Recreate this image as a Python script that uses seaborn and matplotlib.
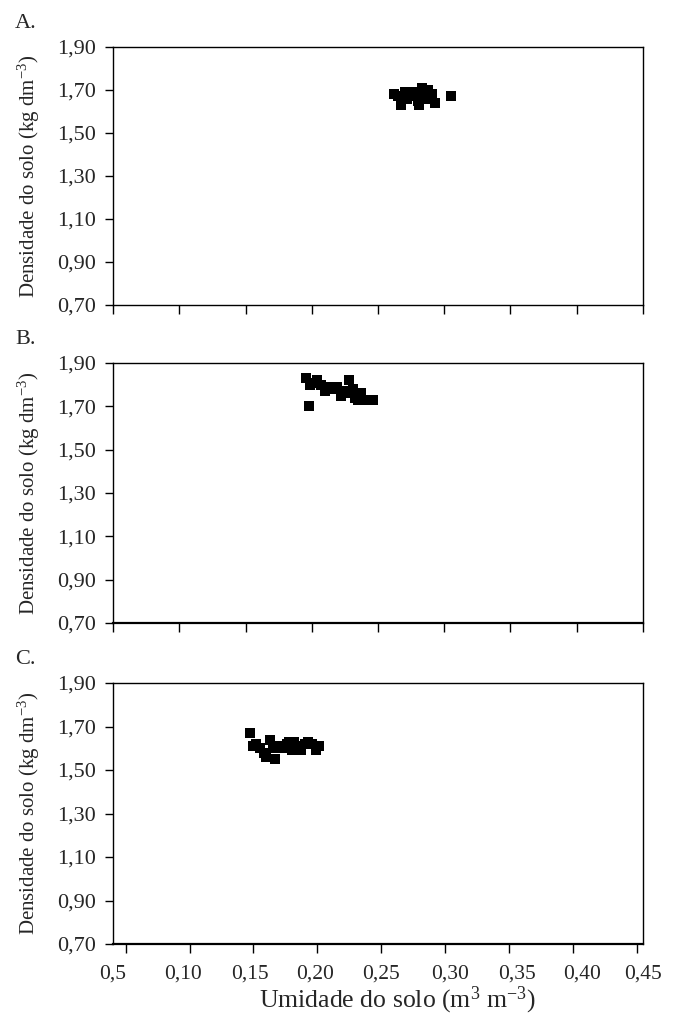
import numpy as np
import pandas as pd
import matplotlib
matplotlib.use("Agg")
import matplotlib.pyplot as plt
import seaborn as sns

# Soil moisture (m3 m-3) vs bulk density (kg dm-3), three panels
umid_a = [0.262, 0.265, 0.267, 0.270, 0.272, 0.275, 0.277, 0.280, 0.281, 0.283,
          0.285, 0.287, 0.289, 0.291, 0.293, 0.270, 0.276, 0.284, 0.288, 0.305]
dens_a = [1.68, 1.67, 1.63, 1.69, 1.66, 1.68, 1.67, 1.65, 1.63, 1.71,
          1.68, 1.69, 1.66, 1.68, 1.64, 1.67, 1.69, 1.66, 1.70, 1.67]

umid_b = [0.196, 0.199, 0.201, 0.204, 0.207, 0.210, 0.212, 0.215, 0.219, 0.222,
          0.224, 0.228, 0.229, 0.231, 0.233, 0.235, 0.237, 0.239, 0.2465, 0.198]
dens_b = [1.83, 1.80, 1.81, 1.82, 1.80, 1.77, 1.79, 1.78, 1.79, 1.75,
          1.77, 1.82, 1.76, 1.78, 1.74, 1.73, 1.76, 1.73, 1.73, 1.70]

umid_c = [0.147, 0.150, 0.152, 0.155, 0.158, 0.160, 0.163, 0.165, 0.167, 0.170, 0.173,
          0.176, 0.178, 0.180, 0.182, 0.185, 0.187, 0.190, 0.193, 0.196, 0.199, 0.201]
dens_c = [1.67, 1.61, 1.62, 1.60, 1.58, 1.56, 1.64, 1.60, 1.55, 1.61, 1.60,
          1.62, 1.63, 1.59, 1.63, 1.61, 1.59, 1.62, 1.63, 1.62, 1.59, 1.61]

x_ticks = [0.05, 0.10, 0.15, 0.20, 0.25, 0.30, 0.35, 0.40, 0.45]
x_labels = ["0,5", "0,10", "0,15", "0,20", "0,25", "0,30", "0,35", "0,40", "0,45"]
y_ticks = [0.70, 0.90, 1.10, 1.30, 1.50, 1.70, 1.90]
y_labels = ["0,70", "0,90", "1,10", "1,30", "1,50", "1,70", "1,90"]
panels = ["A.", "B.", "C."]

sns.set_style("ticks")
plt.rcParams["font.family"] = ["Liberation Serif", "DejaVu Serif"]
plt.rcParams["mathtext.fontset"] = "custom"
plt.rcParams["mathtext.rm"] = "Liberation Serif"
plt.rcParams["mathtext.it"] = "Liberation Serif"

fig = plt.figure(figsize=(6.83, 10.18), dpi=100)
W, H = 683, 1018
left, right = 113, 643
tops = [47, 363, 683]
bottoms = [305, 623, 944]
# the original's x tick labels sit slightly spread out from the tick marks (pixel centres)
label_px = [100, 172, 242, 309, 378, 449, 518, 586, 649]
label_pos = [0.05 + (p - left) / (right - left) * 0.40 for p in label_px]

data = [(umid_a, dens_a), (umid_b, dens_b), (umid_c, dens_c)]

for i, (xs, ys) in enumerate(data):
    h = bottoms[i] - tops[i]
    ax = fig.add_axes([left / W, 1 - bottoms[i] / H, (right - left) / W, h / H])
    df = pd.DataFrame({"umidade": xs, "densidade": ys})
    sns.scatterplot(data=df, x="umidade", y="densidade", ax=ax, marker="s", s=55,
                    color="black", edgecolor="black", linewidth=0, clip_on=False)
    ax.set_xlim(0.05, 0.45)
    ax.set_ylim(0.70, 1.90)
    ax.xaxis.remove_overlapping_locs = False
    ax.set_xticks(x_ticks)
    ax.set_xticklabels([])
    ax.set_yticks(y_ticks)
    ax.set_yticklabels(y_labels, fontsize=16)
    if i == 2:
        ax.set_xticks(label_pos, minor=True)
        ax.set_xticklabels(x_labels, minor=True, fontsize=15.5)
        ax.set_xlabel("Umidade do solo (m$^{3}$ m$^{-3}$)", fontsize=18.5)
        ax.xaxis.set_label_coords((397 - left) / (right - left), (bottoms[i] - 1000) / h)
        ax.xaxis.label.set_va("center")
    else:
        ax.set_xlabel("")
    ax.set_ylabel("Densidade do solo (kg dm$^{-3}$)", fontsize=15)
    ax.yaxis.set_label_coords((29 - left) / (right - left), 0.5)
    ax.yaxis.label.set_va("center")
    ax.tick_params(axis="x", which="major", direction="out", length=6.5, width=1, color="black")
    ax.tick_params(axis="x", which="minor", length=0, pad=15)
    ax.tick_params(axis="y", direction="out", length=6, width=1, color="black", pad=6.5)
    for sp in ax.spines.values():
        sp.set_linewidth(1)
        sp.set_color("black")
    if i > 0:
        ax.spines["bottom"].set_linewidth(1.6)
    fig.text(15 / W, 1 - (tops[i] - 24) / H, panels[i], fontsize=16, ha="left", va="center")

fig.savefig("out.png", dpi=100)
